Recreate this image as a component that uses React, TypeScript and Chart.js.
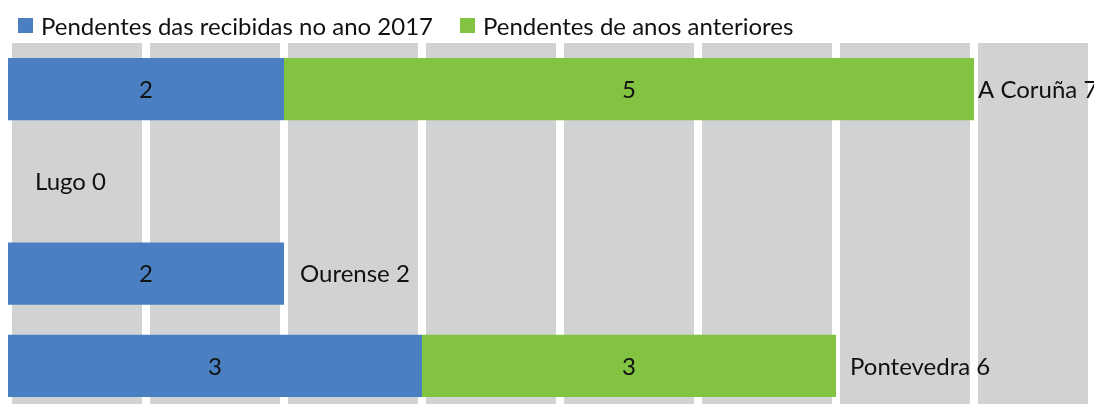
import React, { useEffect, useRef } from 'react';
import { Chart, registerables } from 'chart.js';

Chart.register(...registerables);

const categories = ['A Coruña', 'Lugo', 'Ourense', 'Pontevedra'];
const recibidas2017 = [2, 0, 2, 3];
const anosAnteriores = [5, 0, 0, 3];
const seriesNames = ['Pendentes das recibidas no ano 2017', 'Pendentes de anos anteriores'];
const seriesColors = ['#4A7FC1', '#82C341'];

const FONT_FAMILY = 'Lato, "Open Sans", sans-serif';
const FONT_SIZE = 24;
const TEXT_COLOR = '#111111';
const STRIPE_COLOR = '#D1D2D4';

const decorPlugin = {
  id: 'decor',
  beforeDatasetsDraw(chart: any) {
    const { ctx, chartArea, scales } = chart;
    const x = scales.x;
    ctx.save();
    ctx.fillStyle = STRIPE_COLOR;
    const maxInt = Math.ceil(x.max);
    for (let i = 0; i < maxInt; i++) {
      const x0 = x.getPixelForValue(i) + 4;
      const x1 = Math.min(x.getPixelForValue(i + 1) - 4, chartArea.right);
      if (x1 > x0) ctx.fillRect(x0, chartArea.top, x1 - x0, chartArea.bottom - chartArea.top);
    }
    ctx.restore();
  },
  afterDatasetsDraw(chart: any, _args: any, opts: any) {
    const { ctx, scales } = chart;
    const font = `${FONT_SIZE}px ${FONT_FAMILY}`;
    ctx.save();
    ctx.font = font;
    ctx.fillStyle = TEXT_COLOR;
    ctx.textBaseline = 'middle';
    // values inside bars
    chart.data.datasets.forEach((ds: any, di: number) => {
      const meta = chart.getDatasetMeta(di);
      meta.data.forEach((bar: any, i: number) => {
        const v = ds.data[i];
        if (!v) return;
        const left = Math.min(bar.x, bar.base);
        const right = Math.max(bar.x, bar.base);
        ctx.textAlign = 'center';
        ctx.fillText(String(v), (left + right) / 2, bar.y + 1);
      });
    });
    // totals after bars
    const offsets: number[] = opts.totalOffsets || [];
    categories.forEach((cat, i) => {
      const total = recibidas2017[i] + anosAnteriores[i];
      const end = scales.x.getPixelForValue(total);
      const y = scales.y.getPixelForValue(i);
      ctx.textAlign = 'left';
      ctx.fillText(`${cat} ${total}`, end + (offsets[i] ?? 14), y + 1);
    });
    ctx.restore();
  },
  afterDraw(chart: any) {
    const { ctx } = chart;
    ctx.save();
    ctx.font = `${FONT_SIZE}px ${FONT_FAMILY}`;
    ctx.textBaseline = 'alphabetic';
    ctx.textAlign = 'left';
    let x = 18;
    seriesNames.forEach((name, i) => {
      ctx.fillStyle = seriesColors[i];
      ctx.fillRect(x, 18, 15, 15);
      ctx.fillStyle = TEXT_COLOR;
      ctx.fillText(name, x + 23, 35);
      x += 23 + ctx.measureText(name).width + 27;
    });
    ctx.restore();
  },
};

export default function App() {
  const ref = useRef<HTMLCanvasElement | null>(null);

  useEffect(() => {
    document.body.style.margin = '0';
    const canvas = ref.current!;
    const chart = new Chart(canvas, {
      type: 'bar',
      data: {
        labels: categories,
        datasets: [
          {
            label: seriesNames[0],
            data: recibidas2017,
            backgroundColor: seriesColors[0],
            borderWidth: 0,
            barPercentage: 0.674,
            categoryPercentage: 1,
          },
          {
            label: seriesNames[1],
            data: anosAnteriores,
            backgroundColor: seriesColors[1],
            borderWidth: 0,
            barPercentage: 0.674,
            categoryPercentage: 1,
          },
        ],
      },
      options: {
        indexAxis: 'y',
        responsive: false,
        animation: false,
        layout: { padding: { left: 8, right: 6, top: 43, bottom: 0 } },
        scales: {
          x: { stacked: true, min: 0, max: 7.826, display: false, ticks: { stepSize: 1 } },
          y: { stacked: true, display: false },
        },
        plugins: {
          legend: { display: false },
          tooltip: { enabled: false },
          decor: { totalOffsets: [4, 27, 16, 14] },
        } as any,
      },
      plugins: [decorPlugin],
    });
    return () => chart.destroy();
  }, []);

  return (
    <div style={{ width: 1094, height: 404, overflow: 'hidden', background: '#fff' }}>
      <canvas ref={ref} width={1094} height={412} style={{ display: 'block' }} />
    </div>
  );
}
